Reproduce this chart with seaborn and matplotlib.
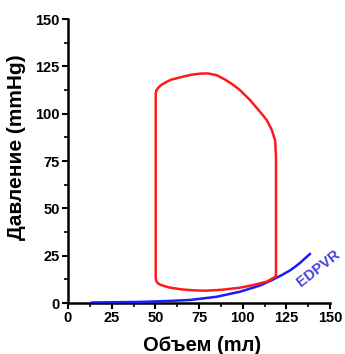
import matplotlib
matplotlib.use("Agg")
import matplotlib.pyplot as plt
import seaborn as sns
from matplotlib.ticker import MultipleLocator

# PV loop (volume in ml, pressure in mmHg)
loop_volume = [119, 119, 119, 118.5, 116.6, 113.7, 109.9, 104.2, 98.4, 94.6, 90, 85,
               80, 75.6, 70, 64.1, 59, 56.5, 53.5, 51.7, 50.6, 50.2, 50.2, 50.2,
               50.6, 51.5, 53, 55, 58, 65, 72, 79, 88, 98.5, 106, 113.7, 119]
loop_pressure = [14, 40, 77.3, 86, 91.4, 96.7, 101, 107.2, 112.5, 115.2, 118, 120.4,
                 121.3, 121.2, 120.5, 119.2, 118, 116.9, 115.3, 113.8, 112.3, 110.8, 60, 13,
                 11.5, 10.4, 9.6, 9.0, 8.2, 7.2, 6.7, 6.5, 7.0, 8.1, 9.5, 11.3, 14]

# end-diastolic pressure-volume relation
edpvr_volume = [13.5, 25, 41.8, 55, 69.8, 85, 98.5, 110, 117.5, 122, 127, 130, 133, 135.5, 138.5]
edpvr_pressure = [0.3, 0.4, 0.6, 1.0, 1.6, 3.3, 6.0, 9.3, 12.5, 14.6, 17.2, 19.2, 21.4, 23.5, 26.0]

sns.set_style("ticks")
plt.rcParams['font.family'] = ['Liberation Sans', 'DejaVu Sans']
plt.rcParams['text.color'] = 'black'
plt.rcParams['axes.labelcolor'] = 'black'
plt.rcParams['xtick.color'] = 'black'
plt.rcParams['ytick.color'] = 'black'

fig = plt.figure(figsize=(3.45, 3.54), dpi=100)
ax = fig.add_axes([0.197, 0.144, 0.76, 0.802])

sns.lineplot(x=edpvr_volume, y=edpvr_pressure, sort=False, estimator=None,
             color='#1a1aff', lw=1.8, ax=ax, zorder=3)
sns.lineplot(x=loop_volume, y=loop_pressure, sort=False, estimator=None,
             color='#ff1a1a', lw=1.8, ax=ax, zorder=4)

ax.text(143, 18.5, 'EDPVR', color='#4040e0', fontsize=10.5, fontweight='bold',
        rotation=38, ha='center', va='center')

ax.set_xlim(0, 150)
ax.set_ylim(0, 150)
ax.xaxis.set_major_locator(MultipleLocator(25))
ax.yaxis.set_major_locator(MultipleLocator(25))
ax.xaxis.set_minor_locator(MultipleLocator(12.5))
ax.yaxis.set_minor_locator(MultipleLocator(12.5))
ax.tick_params(which='major', length=4, width=1.5, labelsize=10.5, pad=2)
ax.tick_params(which='minor', length=3, width=1.2)
for lab in ax.get_xticklabels() + ax.get_yticklabels():
    lab.set_fontweight('bold')

for s in ['left', 'bottom']:
    ax.spines[s].set_linewidth(1.8)
    ax.spines[s].set_color('black')
sns.despine(ax=ax)

ax.set_xlabel('Объем (mл)', fontsize=14.5, fontweight='bold', va='center')
ax.set_ylabel('Давление (mmHg)', fontsize=15, fontweight='bold', va='center')
ax.xaxis.set_label_coords(0.511, -0.151)
ax.yaxis.set_label_coords(-0.198, 0.55)

fig.savefig('out.png', dpi=100)
